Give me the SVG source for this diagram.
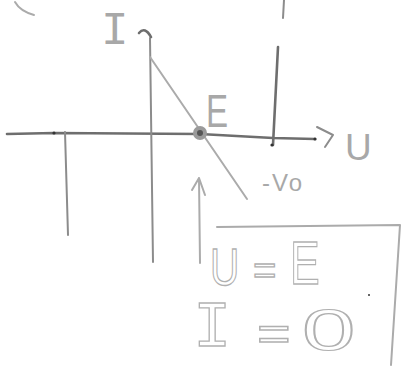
<svg xmlns="http://www.w3.org/2000/svg" width="401" height="366" viewBox="0 0 401 366">
<style>
.pen{fill:none;stroke:#8c8c8c;stroke-width:2;stroke-linecap:round;stroke-linejoin:round}
.dark{fill:none;stroke:#6e6e6e;stroke-width:2.6;stroke-linecap:round;stroke-linejoin:round}
.lt{fill:none;stroke:#ababab;stroke-width:2;stroke-linecap:round;stroke-linejoin:round}
.hw{font-family:"Liberation Sans",Arial,sans-serif;fill:#a8a8a8}
.hm{font-family:"Liberation Mono","Courier New",monospace;fill:#a8a8a8}
.ol{fill:none;stroke:#b0b0b0;stroke-width:1.3}
.pt{fill:#333}
</style>
<rect width="401" height="366" fill="#fff"/>
<g id="marks">
<path class="lt" d="M15,2 Q20,11 34,15"/>
<path class="pen" d="M284,0 L283,18"/>
</g>
<g id="connectors">
<path id="u-axis" class="dark" d="M7,134 L54,133 L200,134 L273,138 L315,139"/>
<path id="u-arrow" class="pen" d="M317,127 L333,135 L325,147"/>
<path id="i-axis" class="pen" d="M150,38 L153,262"/>
<path id="i-arrow" class="dark" d="M139,33 Q145,26 151,37"/>
<path id="load-line" class="lt" d="M150,57 L247,199"/>
<path id="right-line" class="dark" d="M278,47 L273,145"/>
<path id="left-line" class="pen" d="M65,132 L68,235"/>
<path id="up-arrow" class="lt" d="M200,263 L199,178 M192,190 L199,178 L205,195"/>
<path id="box" class="lt" d="M217,227 L400,225 L391,365"/>
</g>
<g id="points">
<circle cx="200" cy="133" r="7" fill="#9a9a9a"/>
<circle cx="200" cy="133" r="3" fill="#555"/>
<circle class="pt" cx="54" cy="133" r="1.6"/>
<circle class="pt" cx="315" cy="139" r="1.6"/>
<circle class="pt" cx="272" cy="145" r="1.6"/>
<circle class="pt" cx="369" cy="295" r="1"/>
</g>
<g id="labels">
<text class="hm" font-size="46" x="101" y="44">I</text>
<text class="hw" font-size="46" transform="translate(206,127) scale(0.72,1)">E</text>
<text class="hw" font-size="37" x="345" y="160">U</text>
<text class="hw" font-size="24" x="262" y="191" letter-spacing="2" fill="#999">-Vo</text>
</g>
<g id="result">
<text class="hw ol" font-size="52" transform="translate(210,285) scale(0.78,1)">U</text>
<text class="hw ol" font-size="40" x="253" y="284">=</text>
<text class="hw ol" font-size="62" transform="translate(290,284) scale(0.72,1)">E</text>
<text class="hm ol" font-size="64" x="193" y="346">I</text>
<text class="hw ol" font-size="48" transform="translate(257,350) scale(1.2,1)">=</text>
<text class="hw ol" font-size="60" transform="translate(302,350) scale(1.6,0.95)">0</text>
</g>
</svg>
